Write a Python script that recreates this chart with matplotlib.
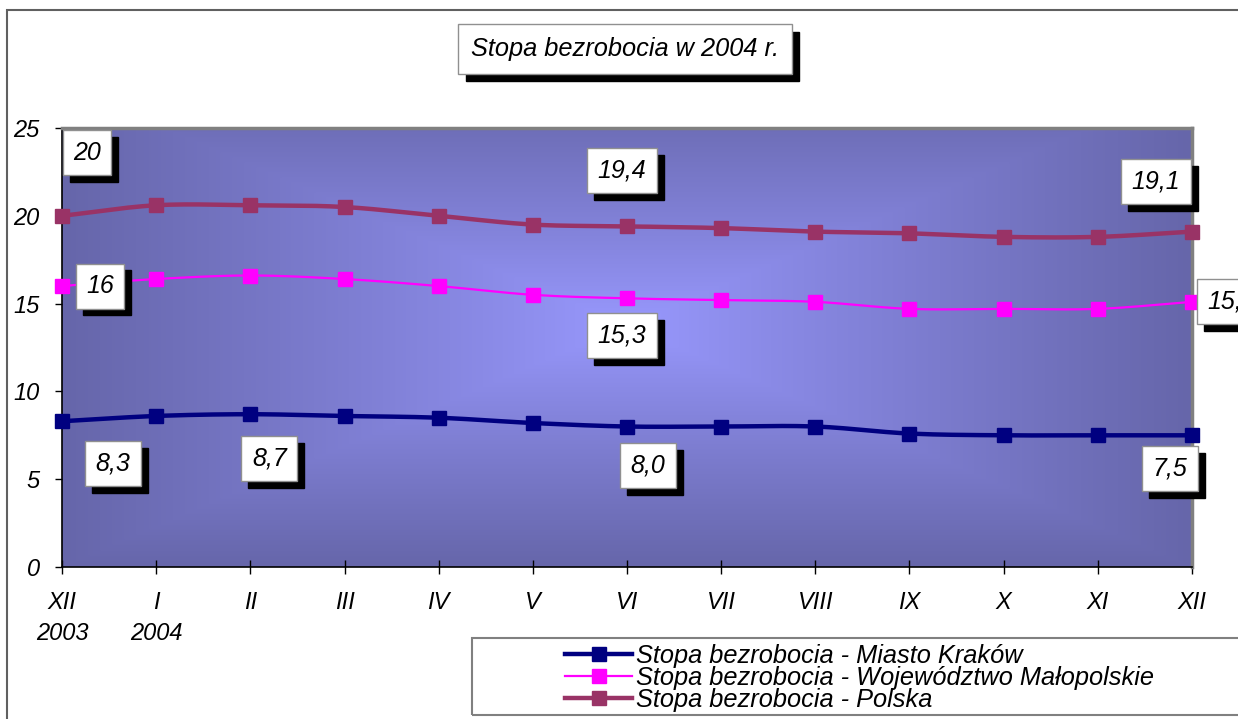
import numpy as np
import matplotlib
matplotlib.use("Agg")
from matplotlib import pyplot as plt
from matplotlib import transforms
from matplotlib.patches import Rectangle

plt.rcParams['font.family'] = ['Liberation Sans', 'DejaVu Sans']
plt.rcParams['font.style'] = 'italic'

months = ['XII\n2003', 'I\n2004', 'II', 'III', 'IV', 'V', 'VI', 'VII', 'VIII', 'IX', 'X', 'XI', 'XII']
krakow = [8.3, 8.6, 8.7, 8.6, 8.5, 8.2, 8.0, 8.0, 8.0, 7.6, 7.5, 7.5, 7.5]
malopolska = [16.0, 16.4, 16.6, 16.4, 16.0, 15.5, 15.3, 15.2, 15.1, 14.7, 14.7, 14.7, 15.1]
polska = [20.0, 20.6, 20.6, 20.5, 20.0, 19.5, 19.4, 19.3, 19.1, 19.0, 18.8, 18.8, 19.1]
names = ['Stopa bezrobocia - Miasto Kraków',
         'Stopa bezrobocia - Województwo Małopolskie',
         'Stopa bezrobocia - Polska']
title = 'Stopa bezrobocia w 2004 r.'

# which points get a value box: (index, offset in px)
labels_krakow = [(0, (51, -42)), (2, (19, -44)), (6, (21, -39)), (12, (-22, -33))]
labels_malo = [(0, (38, 0)), (6, (-5, -37)), (12, (40, 0))]
labels_pol = [(0, (25, 63)), (6, (-5, 56)), (12, (-36, 50))]

W, H = 1238, 719
fig = plt.figure(figsize=(W / 100, H / 100), dpi=100)
fig.patch.set_facecolor('white')

# outer chart border (cut by the image on right/bottom)
fig.patches.append(Rectangle((7 / W, -0.1), 1.2, 1 - 10 / H + 0.1, transform=fig.transFigure,
                             fill=False, ec='#606060', lw=1.5, zorder=0))

ax = fig.add_axes([62 / W, 1 - 567 / H, 1130 / W, 439 / H])


def smooth(y, n=20):
    # catmull-rom path through the points, like the smoothed Excel line
    y = np.asarray(y, float)
    x = np.arange(len(y), dtype=float)
    px = np.concatenate([[2 * x[0] - x[1]], x, [2 * x[-1] - x[-2]]])
    py = np.concatenate([[2 * y[0] - y[1]], y, [2 * y[-1] - y[-2]]])
    xs, ys = [], []
    t = np.linspace(0, 1, n, endpoint=False)
    for i in range(1, len(px) - 2):
        for arr, out in ((px, xs), (py, ys)):
            p0, p1, p2, p3 = arr[i - 1], arr[i], arr[i + 1], arr[i + 2]
            out.extend(0.5 * (2 * p1 + (-p0 + p2) * t + (2 * p0 - 5 * p1 + 4 * p2 - p3) * t ** 2
                              + (-p0 + 3 * p1 - 3 * p2 + p3) * t ** 3))
    xs.append(x[-1]); ys.append(y[-1])
    return np.array(xs), np.array(ys)


# gradient background
gx = np.linspace(0, 1, 400)
gy = np.linspace(0, 1, 300)
GX, GY = np.meshgrid(gx, gy)
tt = np.maximum(np.abs(GX - 0.5) / 0.5, np.abs(GY - 0.55) / 0.55)
tt = np.clip(tt, 0, 1) ** 0.9
c_in = np.array([153, 153, 255]) / 255
c_out = np.array([102, 102, 170]) / 255
img = c_in[None, None, :] * (1 - tt[..., None]) + c_out[None, None, :] * tt[..., None]
ax.imshow(img, extent=[0, 12, 0, 25], aspect='auto', origin='lower', zorder=0)

x = np.arange(len(months))
series = [(krakow, '#000080', 3.2, labels_krakow),
          (malopolska, '#FF00FF', 1.6, labels_malo),
          (polska, '#993366', 3.2, labels_pol)]
handles = []
for (vals, col, lw, labs), name in zip(series, names):
    sx, sy = smooth(vals)
    ax.plot(sx, sy, color=col, lw=lw, zorder=3, clip_on=False, solid_capstyle='butt')
    ax.plot(x, vals, ls='none', marker='s', ms=9.5, color=col, zorder=4, clip_on=False)
    h, = ax.plot([], [], color=col, lw=lw, marker='s', ms=9.5)
    handles.append(h)
    for idx, (dx, dy) in labs:
        txt = f'{vals[idx]:.1f}'.replace('.', ',')
        if idx == 0 and vals is not krakow:
            txt = f'{vals[idx]:.0f}'
        ax.annotate(txt, (x[idx], vals[idx]), xytext=(dx * 0.72 + 5, dy * 0.72 - 5),
                    textcoords='offset points', ha='center', va='center', fontsize=18,
                    color='black', zorder=5, annotation_clip=False,
                    bbox=dict(boxstyle='square,pad=0.42', fc='black', ec='black'))
        ax.annotate(txt, (x[idx], vals[idx]), xytext=(dx * 0.72, dy * 0.72),
                    textcoords='offset points', ha='center', va='center', fontsize=18,
                    color='black', zorder=6, annotation_clip=False,
                    bbox=dict(boxstyle='square,pad=0.42', fc='white', ec='#909090', lw=1))

ax.set_xlim(0, 12)
ax.set_ylim(0, 25)
ax.set_xticks(x)
ax.set_xticklabels(months, fontsize=17, linespacing=1.45, va='top')
ax.set_yticks([0, 5, 10, 15, 20, 25])
ax.tick_params(axis='y', direction='out', length=5, width=1, pad=11, labelsize=17)
ax.tick_params(axis='x', direction='inout', length=10, width=1, pad=12)
for s in ('top', 'right'):
    ax.spines[s].set_color('#808080')
    ax.spines[s].set_linewidth(2.5)
for s in ('left', 'bottom'):
    ax.spines[s].set_color('black')
    ax.spines[s].set_linewidth(1.2)

# title box with shadow
tkw = dict(ha='center', va='center', fontsize=18.3)
fig.text(625 / W, 1 - 49 / H, title, color='black',
         transform=transforms.offset_copy(fig.transFigure, fig=fig, x=5.5, y=-5.5, units='points'),
         bbox=dict(boxstyle='square,pad=0.5', fc='black', ec='black'), **tkw)
fig.text(625 / W, 1 - 49 / H, title, color='black',
         bbox=dict(boxstyle='square,pad=0.5', fc='white', ec='#909090', lw=1), **tkw)

# legend
fig.patches.append(Rectangle((472 / W, 1 - 715 / H), 0.7, 77 / H, transform=fig.transFigure,
                             fill=False, ec='#808080', lw=1.5, zorder=1))
fig.legend(handles, names, loc='upper left', bbox_to_anchor=(565 / W, 1 - 644 / H),
           frameon=False, fontsize=18.3, handlelength=2.65, handletextpad=0.16,
           labelspacing=-0.08, borderpad=0, borderaxespad=0)

fig.savefig('out.png', dpi=100)
